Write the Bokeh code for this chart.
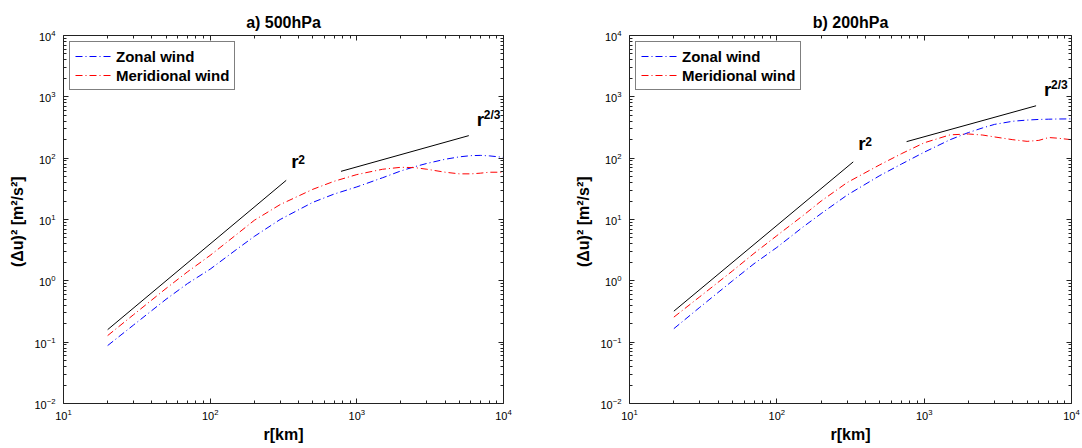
from bokeh.plotting import figure
from bokeh.models import LogAxis, FixedTicker, LogTickFormatter, Legend, LegendItem, Label, Range1d
from bokeh.layouts import row
from bokeh.embed import file_html
from bokeh.resources import INLINE

# ---------------- data ----------------
r_km = [20, 30, 50, 70, 100, 150, 200, 300, 500, 700, 1000, 1500, 2000, 2500,
        3000, 4000, 5000, 6000, 7000, 8000, 10000]

zonal_500 = [0.088, 0.19, 0.5, 0.9, 1.55, 3.2, 5.3, 10, 19, 26, 34, 48, 62, 73,
             82, 96, 105, 110, 111, 109, 103]
merid_500 = [0.128, 0.28, 0.75, 1.4, 2.6, 5.6, 9.7, 17.5, 31, 42, 54, 66, 71, 70,
             66, 59, 55.5, 55.5, 57, 59, 59]

zonal_200 = [0.166, 0.37, 1.0, 1.9, 3.5, 7.5, 12.5, 25, 52, 80, 125, 200, 262, 312,
             355, 400, 418, 428, 432, 435, 437]
merid_200 = [0.256, 0.55, 1.45, 2.8, 5.45, 11.5, 20, 40, 78, 118, 178, 240, 248, 238,
             222, 200, 188, 195, 217, 212, 200]

# reference slope lines (end points)
r2_x_500 = [20, 330]
r2_y_500 = [0.16, 43.5]
r23_x_500 = [780, 5800]
r23_y_500 = [61, 233]

r2_x_200 = [20, 330]
r2_y_200 = [0.32, 87]
r23_x_200 = [760, 5750]
r23_y_200 = [186, 715]

titles = ["a) 500hPa", "b) 200hPa"]
series_labels = ["Zonal wind", "Meridional wind"]
x_label = "r[km]"
y_label = "(\u0394u)\u00b2  [m\u00b2/s\u00b2]"

x_major = [10, 100, 1000, 10000]
x_minor = [m * 10 ** k for k in range(1, 4) for m in range(2, 10)]
y_major = [10.0 ** k for k in range(-2, 5)]
y_minor = [m * 10.0 ** k for k in range(-2, 4) for m in range(2, 10)]

FONT = "Liberation Sans"
DASH = "7 3 1 3"


def style_axis(ax, major, minor, hide_labels=False):
    ax.ticker = FixedTicker(ticks=major, minor_ticks=minor)
    ax.formatter = LogTickFormatter()
    ax.major_tick_in = 5
    ax.major_tick_out = 0
    ax.minor_tick_in = 3
    ax.minor_tick_out = 0
    ax.axis_line_color = "#222222"
    ax.major_tick_line_color = "#222222"
    ax.minor_tick_line_color = "#222222"
    ax.major_label_text_font = FONT
    ax.major_label_text_color = "black"
    if hide_labels:
        ax.major_label_text_font_size = "1px"
        ax.major_label_text_alpha = 0
        ax.major_label_standoff = 0
    else:
        ax.major_label_text_font_size = "11px"
        ax.major_label_standoff = 8
    ax.axis_label_text_font = FONT
    ax.axis_label_text_font_style = "bold"
    ax.axis_label_text_font_size = "16px"
    ax.axis_label_text_color = "black"


def make(title, zonal, merid, r2x, r2y, r23x, r23y, width, bl, br):
    p = figure(width=width, height=448, x_axis_type="log", y_axis_type="log",
               x_range=Range1d(10, 10000), y_range=Range1d(1e-2, 1e4),
               output_backend="svg", toolbar_location=None,
               min_border_left=bl, min_border_right=br,
               min_border_top=35, min_border_bottom=45)
    p.title.text = title
    p.title.text_font = FONT
    p.title.text_font_size = "16px"
    p.title.text_font_style = "bold"
    p.title.align = "center"
    p.title.text_color = "black"
    p.outline_line_color = None
    p.xgrid.visible = False
    p.ygrid.visible = False

    style_axis(p.xaxis[0], x_major, x_minor)
    style_axis(p.yaxis[0], y_major, y_minor)
    p.xaxis[0].axis_label = x_label
    p.yaxis[0].axis_label = y_label
    p.xaxis[0].major_label_standoff = 5
    p.xaxis[0].axis_label_standoff = 3
    p.yaxis[0].axis_label_standoff = 5

    top = LogAxis()
    style_axis(top, x_major, x_minor, hide_labels=True)
    p.add_layout(top, "above")
    right = LogAxis()
    style_axis(right, y_major, y_minor, hide_labels=True)
    p.add_layout(right, "right")

    p.line(r2x, r2y, line_color="black", line_width=1)
    p.line(r23x, r23y, line_color="black", line_width=1)
    rb = p.line(r_km, zonal, line_color="#0000ff", line_width=1, line_dash=DASH)
    rr = p.line(r_km, merid, line_color="#ff0000", line_width=1, line_dash=DASH)

    # slope labels anchored at line ends
    lab = dict(text_font=FONT, text_font_style="bold", text_color="black")
    p.add_layout(Label(x=r2x[-1], y=r2y[-1], x_offset=5, y_offset=8, text="r",
                       text_font_size="19px", **lab))
    p.add_layout(Label(x=r2x[-1], y=r2y[-1], x_offset=12, y_offset=16, text="2",
                       text_font_size="12px", **lab))
    p.add_layout(Label(x=r23x[-1], y=r23y[-1], x_offset=8, y_offset=6, text="r",
                       text_font_size="19px", **lab))
    p.add_layout(Label(x=r23x[-1], y=r23y[-1], x_offset=15, y_offset=14, text="2/3",
                       text_font_size="12px", **lab))

    legend = Legend(items=[LegendItem(label=series_labels[0], renderers=[rb]),
                           LegendItem(label=series_labels[1], renderers=[rr])],
                    location="top_left")
    legend.label_text_font = FONT
    legend.label_text_font_style = "bold"
    legend.label_text_font_size = "15px"
    legend.label_text_color = "black"
    legend.border_line_color = "black"
    legend.border_line_width = 1
    legend.glyph_width = 37
    legend.glyph_height = 18
    legend.label_height = 18
    legend.label_standoff = 4
    legend.padding = 5
    legend.spacing = 1
    legend.margin = 6
    legend.background_fill_alpha = 1
    p.add_layout(legend)
    return p


p1 = make(titles[0], zonal_500, merid_500, r2_x_500, r2_y_500, r23_x_500, r23_y_500,
          566, 63, 63)
p2 = make(titles[1], zonal_200, merid_200, r2_x_200, r2_y_200, r23_x_200, r23_y_200,
          516, 63, 11)

layout = row(p1, p2)
open("out.html", "w").write(file_html(layout, INLINE))
